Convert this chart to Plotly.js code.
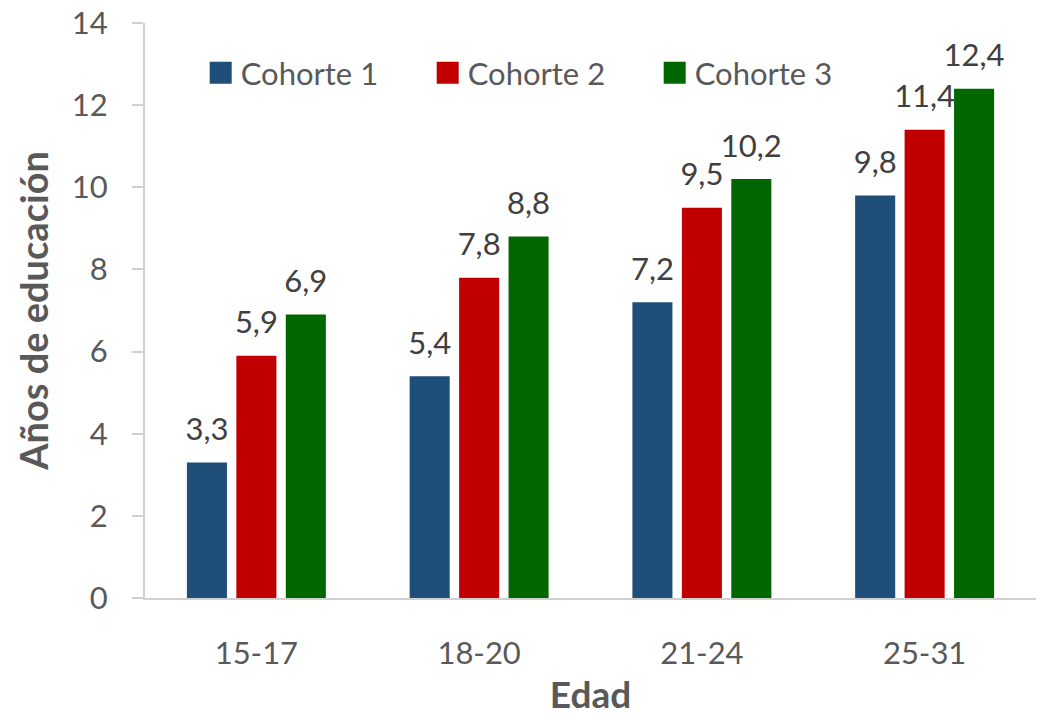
<!DOCTYPE html>
<html>
<head>
<meta charset="utf-8">
<script src="https://cdn.plot.ly/plotly-3.0.1.min.js"></script>
<style>html,body{margin:0;padding:0;background:#fff;}#chart{width:1038px;height:717px;}</style>
</head>
<body>
<div id="chart"></div>
<script>
const categories = ["15-17", "18-20", "21-24", "25-31"];
const seriesNames = ["Cohorte 1", "Cohorte 2", "Cohorte 3"];
const cohorte1 = [3.3, 5.4, 7.2, 9.8];
const cohorte2 = [5.9, 7.8, 9.5, 11.4];
const cohorte3 = [6.9, 8.8, 10.2, 12.4];
const colors = ["#1F4E79", "#C00000", "#006600"];
const yTicks = [0, 2, 4, 6, 8, 10, 12, 14];

const FONT = "Lato, Open Sans, sans-serif";
const values = [cohorte1, cohorte2, cohorte3];
const bars = values.map((v, i) => ({
  type: "bar",
  name: seriesNames[i],
  x: categories,
  y: v,
  offsetgroup: String(i + 1),
  marker: {color: colors[i]},
  hoverinfo: "x+y+name"
}));
const labels = values.map((v, i) => ({
  type: "scatter",
  mode: "markers+text",
  x: categories,
  y: v,
  offsetgroup: String(i + 1),
  text: v.map(n => n.toFixed(1).replace(".", ",")),
  textposition: "top center",
  textfont: {family: FONT, size: 31, color: "#404040"},
  marker: {size: 22, opacity: 0, color: colors[i]},
  cliponaxis: false,
  showlegend: false,
  hoverinfo: "skip"
}));

const layout = {
  width: 1038, height: 717,
  margin: {l: 145, r: 2, t: 23, b: 119},
  paper_bgcolor: "#fff", plot_bgcolor: "#fff",
  barmode: "group", bargap: 0.334, bargroupgap: 0.19,
  scattermode: "group", scattergap: 0.334,
  separators: ",.",
  font: {family: FONT, color: "#595959"},
  xaxis: {
    type: "category",
    showline: true, linecolor: "#d0d0d0", linewidth: 2,
    ticks: "", showgrid: false,
    ticklabelstandoff: 27,
    tickfont: {family: FONT, size: 31, color: "#595959"},
    title: {text: "<b>Edad</b>", font: {family: FONT, size: 37, color: "#595959"}, standoff: 12}
  },
  yaxis: {
    range: [0, 14], tickvals: yTicks,
    showline: true, linecolor: "#d0d0d0", linewidth: 2,
    ticks: "outside", ticklen: 11, tickcolor: "#d0d0d0", tickwidth: 2,
    ticklabelstandoff: 18,
    showgrid: false, zeroline: false,
    tickfont: {family: FONT, size: 31, color: "#595959"},
    title: {text: "<b>Años de educación</b>", font: {family: FONT, size: 38, color: "#595959"}, standoff: 12}
  },
  legend: {
    orientation: "h", x: 0.0625, y: 0.913, xanchor: "left", yanchor: "middle",
    font: {family: FONT, size: 31, color: "#595959"},
    bgcolor: "rgba(0,0,0,0)", entrywidth: 182, entrywidthmode: "pixels"
  },
  showlegend: true
};

Plotly.newPlot("chart", bars.concat(labels), layout, {displayModeBar: false, staticPlot: true}).then(() => {
  document.querySelectorAll("#chart .legendpoints path").forEach(p => {
    p.setAttribute("d", "M11,11H-11V-11H11Z");
  });
});
</script>
</body>
</html>
